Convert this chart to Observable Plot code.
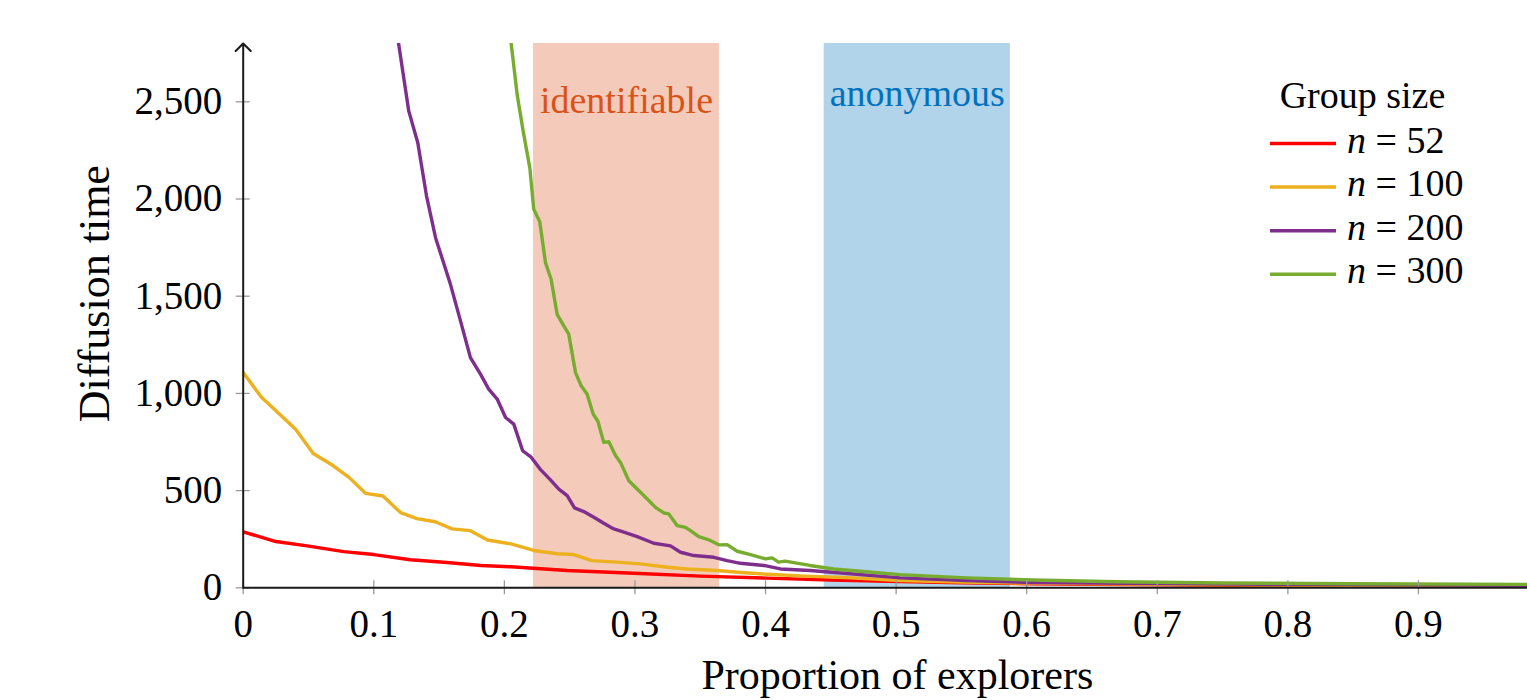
<!DOCTYPE html>
<html>
<head>
<meta charset="utf-8">
<script src="https://cdn.jsdelivr.net/npm/d3@7"></script>
<script src="https://cdn.jsdelivr.net/npm/@observablehq/plot@0.6"></script>
<style>
  html, body { margin: 0; padding: 0; background: #fff; overflow: hidden; }
  #wrap { position: relative; width: 1527px; height: 700px; }
  #wrap svg { display: block; }
  #wrap svg g[aria-label="line"], #wrap svg g[aria-label="line"] path { stroke-width: 3.4px !important; }
</style>
</head>
<body>
<div id="wrap"></div>
<script>
// ---- data ----
const xTicks = [0, 0.1, 0.2, 0.3, 0.4, 0.5, 0.6, 0.7, 0.8, 0.9];
const yTicks = [0, 500, 1000, 1500, 2000, 2500];

const seriesNames = ["52", "100", "200", "300"];
const seriesColors = ["#FF0000", "#EDB120", "#7E2F8E", "#77AC30"];

const bandNames = ["identifiable", "anonymous"];
const bandStart = [0.2223, 0.4449];
const bandEnd = [0.3647, 0.5875];
const bandColors = ["#D95319", "#0072BD"];

const n52X = [0, 0.025, 0.049, 0.077, 0.100, 0.128, 0.156, 0.182, 0.205, 0.248, 0.299, 0.350, 0.401, 0.450, 0.503, 0.550, 0.600, 0.700, 0.800, 0.900, 1.000];
const n52Y = [288, 238, 216, 186, 171, 144, 130, 115, 108, 89, 75, 60, 50, 40, 32, 26, 21, 15, 11, 9, 8];

const n100X = [0, 0.0138, 0.040, 0.0536, 0.0669, 0.081, 0.0937, 0.107, 0.1205, 0.133, 0.147, 0.160, 0.174, 0.187, 0.205, 0.2225, 0.2404, 0.253, 0.267, 0.286, 0.304, 0.325, 0.340, 0.363, 0.381, 0.401, 0.430, 0.465, 0.503, 0.550, 0.600, 0.700, 0.800, 0.900, 1.000];
const n100Y = [1107, 982, 817, 691, 637, 568, 486, 472, 387, 356, 340, 303, 294, 246, 226, 192, 175, 171, 140, 132, 123, 106, 97, 89, 79, 70, 60, 52, 37, 29, 24, 18, 14, 12, 11];

const n200X = [0.119, 0.1268, 0.1337, 0.1404, 0.1473, 0.1587, 0.1664, 0.174, 0.1817, 0.188, 0.1945, 0.2009, 0.2072, 0.2140, 0.2205, 0.2277, 0.2353, 0.2417, 0.2481, 0.2537, 0.2608, 0.2685, 0.2761, 0.2838, 0.2915, 0.3017, 0.3144, 0.3272, 0.3349, 0.3451, 0.3604, 0.3706, 0.3808, 0.3987, 0.4114, 0.434, 0.465, 0.503, 0.554, 0.605, 0.700, 0.800, 0.900, 1.000];
const n200Y = [2800, 2452, 2289, 2015, 1801, 1561, 1373, 1184, 1099, 1022, 971, 876, 842, 705, 672, 608, 555, 508, 474, 411, 392, 363, 332, 303, 286, 263, 229, 216, 183, 166, 157, 140, 126, 115, 97, 89, 72, 51, 37, 27, 22, 18, 15, 13];

const n300X = [0.2052, 0.2098, 0.2144, 0.2195, 0.2225, 0.2271, 0.2315, 0.2358, 0.2404, 0.2455, 0.2493, 0.2545, 0.2588, 0.2634, 0.268, 0.2716, 0.2761, 0.280, 0.2851, 0.2889, 0.2953, 0.3017, 0.3094, 0.3157, 0.3221, 0.3259, 0.3323, 0.3387, 0.3425, 0.3489, 0.3565, 0.3642, 0.3706, 0.3783, 0.3885, 0.400, 0.405, 0.410, 0.415, 0.434, 0.452, 0.4727, 0.503, 0.554, 0.605, 0.669, 0.750, 0.850, 1.000];
const n300Y = [2800, 2537, 2349, 2160, 1947, 1883, 1672, 1587, 1407, 1347, 1305, 1107, 1039, 996, 894, 857, 748, 751, 680, 645, 551, 508, 457, 414, 385, 380, 320, 311, 294, 263, 247, 221, 222, 188, 171, 149, 154, 132, 137, 115, 97, 85, 68, 51, 40, 31, 25, 21, 17];

// ---- build tables ----
const seriesData = [[n52X, n52Y], [n100X, n100Y], [n200X, n200Y], [n300X, n300Y]]
  .map(([xs, ys]) => xs.map((x, j) => ({x, y: ys[j]})));
const bands = bandNames.map((name, i) => ({name, start: bandStart[i], end: bandEnd[i], color: bandColors[i]}));

const FONT = '"Liberation Serif", "Times New Roman", serif';
const LINE_W = 3.4;

const marks = [];
bands.forEach(b => {
  marks.push(Plot.rect([b], {x1: "start", x2: "end", fill: b.color, fillOpacity: 0.3}));
});
marks.push(Plot.text([bands[0]], {x: d => (d.start + d.end) / 2, text: "name", fill: bands[0].color, frameAnchor: "top", lineAnchor: "middle", dy: 57, fontSize: 38}));
marks.push(Plot.text([bands[1]], {x: d => (d.start + d.end) / 2, text: "name", fill: bands[1].color, frameAnchor: "top", lineAnchor: "middle", dy: 50, fontSize: 38}));

seriesData.forEach((data, i) => {
  marks.push(Plot.line(data, {x: "x", y: "y", stroke: seriesColors[i], strokeWidth: LINE_W, strokeLinejoin: "round", clip: true}));
});

// small ticks crossing the axes
marks.push(Plot.ruleX(xTicks, {x: d => d, y1: 0, y2: 0, insetTop: -7, insetBottom: -7, stroke: "#9a9a9a", strokeWidth: 1.3}));
marks.push(Plot.ruleY(yTicks, {y: d => d, x1: 0, x2: 0, insetLeft: -7, insetRight: -7, stroke: "#9a9a9a", strokeWidth: 1.3}));

// tick labels
marks.push(Plot.axisX({ticks: xTicks, tickSize: 0, tickPadding: 21, tickFormat: d => String(d), fontSize: 39, label: null}));
marks.push(Plot.axisY({ticks: yTicks, tickSize: 0, tickPadding: 21, tickFormat: d3.format(","), fontSize: 39, label: null}));

// axis lines
marks.push(Plot.ruleY([0], {stroke: "#1a1a1a", strokeWidth: 2}));
marks.push(Plot.arrow([0], {x1: 0, x2: 0, y1: 0, y2: 2800, stroke: "#1a1a1a", strokeWidth: 2, headAngle: 90, headLength: 8}));

// axis titles
marks.push(Plot.text(["Proportion of explorers"], {frameAnchor: "bottom", lineAnchor: "middle", textAnchor: "middle", text: d => d, dx: 12, dy: 88, fontSize: 42, fill: "#000"}));
marks.push(Plot.text(["Diffusion time"], {frameAnchor: "left", lineAnchor: "middle", textAnchor: "middle", text: d => d, rotate: -90, dx: -148, dy: -22, fontSize: 44, fill: "#000"}));

const chart = Plot.plot({
  width: 1527,
  height: 700,
  marginLeft: 242.7,
  marginRight: 0,
  marginTop: 43,
  marginBottom: 112.7,
  x: {domain: [0, 0.9835]},
  y: {domain: [0, 2800]},
  style: {fontFamily: FONT, fontSize: "38px", color: "#000", background: "#fff", overflow: "hidden"},
  marks
});
document.getElementById("wrap").appendChild(chart);

// ---- legend (top-right, inside the plot area) ----
const leg = d3.select("#wrap").append("svg")
  .attr("width", 272).attr("height", 240)
  .style("position", "absolute").style("left", "1255px").style("top", "70px")
  .style("font-family", FONT).style("font-size", "38px");
leg.append("text").attr("x", 107.5).attr("y", 38).attr("text-anchor", "middle").attr("fill", "#000").text("Group size");
seriesNames.forEach((name, i) => {
  const y = 73.5 + i * 43.6;
  leg.append("line").attr("x1", 15).attr("x2", 81).attr("y1", y).attr("y2", y)
    .attr("stroke", seriesColors[i]).attr("stroke-width", 3.5);
  const t = leg.append("text").attr("x", 92).attr("y", y + 9).attr("fill", "#000");
  t.append("tspan").attr("font-style", "italic").text("n");
  t.append("tspan").text(" = " + name);
});
</script>
</body>
</html>
